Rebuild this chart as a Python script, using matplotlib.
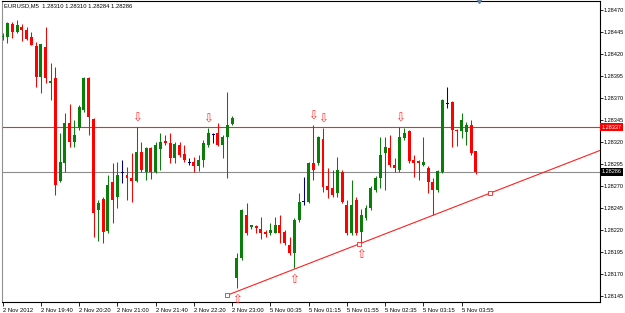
import matplotlib
matplotlib.use('Agg')
import matplotlib.pyplot as plt
import numpy as np

# EURUSD M5 candles, 2 Nov 2012 19:00 -> 5 Nov 2012 04:10
opens = [
    1.28439, 1.28439, 1.28454, 1.28445, 1.28451, 1.28447, 1.28439, 1.28429, 1.28394, 1.28428,
    1.28387, 1.28393, 1.28276, 1.28296, 1.28342, 1.28320, 1.28336, 1.28356, 1.28393, 1.28346,
    1.28243, 1.28255, 1.28219, 1.28275, 1.28257, 1.28285, 1.28282, 1.28279, 1.28276, 1.28309,
    1.28286, 1.28313, 1.28286, 1.28312, 1.28321, 1.28319, 1.28302, 1.28317, 1.28306, 1.28297,
    1.28297, 1.28293, 1.28300, 1.28317, 1.28328, 1.28330, 1.28317, 1.28326, 1.28340, 1.28165,
    1.28188, 1.28237, 1.28223, 1.28225, 1.28221, 1.28218, 1.28217, 1.28217, 1.28226, 1.28218,
    1.28203, 1.28194, 1.28231, 1.28252, 1.28252, 1.28296, 1.28296, 1.28323, 1.28270, 1.28268,
    1.28262, 1.28286, 1.28248, 1.28217, 1.28254, 1.28218, 1.28234, 1.28245, 1.28265, 1.28279,
    1.28307, 1.28313, 1.28294, 1.28288, 1.28325, 1.28332, 1.28300, 1.28298, 1.28294, 1.28290,
    1.28275, 1.28265, 1.28286, 1.28364, 1.28365, 1.28334, 1.28333, 1.28331, 1.28339, 1.28310,
]
highs = [
    1.28444, 1.28456, 1.28456, 1.28459, 1.28454, 1.28451, 1.28445, 1.28434, 1.28431, 1.28451,
    1.28410, 1.28405, 1.28330, 1.28353, 1.28363, 1.28345, 1.28362, 1.28394, 1.28394, 1.28347,
    1.28254, 1.28257, 1.28282, 1.28296, 1.28297, 1.28300, 1.28292, 1.28307, 1.28337, 1.28320,
    1.28314, 1.28314, 1.28320, 1.28330, 1.28328, 1.28330, 1.28320, 1.28320, 1.28317, 1.28302,
    1.28303, 1.28305, 1.28322, 1.28336, 1.28330, 1.28342, 1.28328, 1.28377, 1.28350, 1.28194,
    1.28244, 1.28251, 1.28226, 1.28226, 1.28235, 1.28220, 1.28228, 1.28235, 1.28237, 1.28220,
    1.28212, 1.28234, 1.28262, 1.28280, 1.28297, 1.28339, 1.28327, 1.28336, 1.28290, 1.28288,
    1.28303, 1.28288, 1.28254, 1.28277, 1.28257, 1.28244, 1.28248, 1.28270, 1.28281, 1.28326,
    1.28326, 1.28328, 1.28302, 1.28337, 1.28336, 1.28334, 1.28305, 1.28299, 1.28326, 1.28293,
    1.28279, 1.28288, 1.28369, 1.28382, 1.28367, 1.28335, 1.28353, 1.28343, 1.28345, 1.28310,
]
lows = [
    1.28436, 1.28432, 1.28438, 1.28444, 1.28435, 1.28436, 1.28430, 1.28382, 1.28376, 1.28387,
    1.28368, 1.28260, 1.28275, 1.28286, 1.28314, 1.28314, 1.28334, 1.28354, 1.28328, 1.28212,
    1.28208, 1.28205, 1.28217, 1.28228, 1.28245, 1.28273, 1.28254, 1.28252, 1.28275, 1.28286,
    1.28277, 1.28278, 1.28285, 1.28288, 1.28317, 1.28296, 1.28296, 1.28303, 1.28297, 1.28294,
    1.28286, 1.28287, 1.28292, 1.28314, 1.28319, 1.28315, 1.28302, 1.28279, 1.28339, 1.28154,
    1.28186, 1.28214, 1.28221, 1.28217, 1.28210, 1.28212, 1.28214, 1.28217, 1.28205, 1.28203,
    1.28192, 1.28177, 1.28229, 1.28248, 1.28251, 1.28277, 1.28294, 1.28263, 1.28256, 1.28257,
    1.28257, 1.28251, 1.28214, 1.28214, 1.28214, 1.28205, 1.28231, 1.28243, 1.28263, 1.28268,
    1.28265, 1.28292, 1.28286, 1.28286, 1.28322, 1.28296, 1.28280, 1.28277, 1.28293, 1.28262,
    1.28237, 1.28263, 1.28285, 1.28359, 1.28314, 1.28315, 1.28325, 1.28317, 1.28305, 1.28284,
]
closes = [
    1.28440, 1.28455, 1.28445, 1.28453, 1.28447, 1.28437, 1.28430, 1.28394, 1.28431, 1.28393,
    1.28389, 1.28271, 1.28297, 1.28342, 1.28320, 1.28328, 1.28360, 1.28393, 1.28348, 1.28239,
    1.28251, 1.28218, 1.28271, 1.28254, 1.28282, 1.28285, 1.28279, 1.28276, 1.28309, 1.28288,
    1.28313, 1.28286, 1.28317, 1.28320, 1.28319, 1.28302, 1.28318, 1.28305, 1.28300, 1.28297,
    1.28293, 1.28300, 1.28319, 1.28330, 1.28328, 1.28317, 1.28326, 1.28339, 1.28347, 1.28188,
    1.28243, 1.28217, 1.28226, 1.28222, 1.28217, 1.28215, 1.28220, 1.28226, 1.28217, 1.28205,
    1.28194, 1.28231, 1.28252, 1.28252, 1.28296, 1.28288, 1.28326, 1.28269, 1.28265, 1.28260,
    1.28288, 1.28252, 1.28217, 1.28248, 1.28217, 1.28237, 1.28245, 1.28268, 1.28279, 1.28305,
    1.28314, 1.28294, 1.28290, 1.28326, 1.28330, 1.28298, 1.28296, 1.28296, 1.28297, 1.28275,
    1.28265, 1.28287, 1.28368, 1.28364, 1.28334, 1.28332, 1.28345, 1.28339, 1.28307, 1.28286,
]

time_labels = ['2 Nov 2012', '2 Nov 19:40', '2 Nov 20:20', '2 Nov 21:00', '2 Nov 21:40',
               '2 Nov 22:20', '2 Nov 23:00', '5 Nov 00:35', '5 Nov 01:15', '5 Nov 01:55',
               '5 Nov 02:35', '5 Nov 03:15', '5 Nov 03:55']
price_ticks = [1.28470, 1.28445, 1.28420, 1.28395, 1.28370, 1.28345, 1.28320,
               1.28295, 1.28270, 1.28245, 1.28220, 1.28195, 1.28170, 1.28145]

ask_level = 1.28337
bid_level = 1.28286
up_fractals = [28, 43, 65, 67, 83]
down_fractals = [49, 61, 75]
trend_bars = [47, 102]
trend_prices = [1.28146, 1.28262]

plt.rcParams['font.family'] = ['Liberation Sans', 'DejaVu Sans']

fig = plt.figure(figsize=(6.25, 3.13), dpi=100)
ax = fig.add_axes([2 / 625, 11 / 313, 598 / 625, 301 / 313])

o = np.array(opens)
h = np.array(highs)
l = np.array(lows)
c = np.array(closes)
x = np.arange(len(o))

bull, bear, doji = '#0a7d0a', '#ff0000', '#00008b'
colors = np.where(c > o, bull, np.where(c < o, bear, doji))

# levels
ax.axhline(ask_level, color='#e03030', lw=0.8, zorder=1)
ax.axhline(bid_level, color='#8c8c8c', lw=0.8, zorder=1)

# candles
ax.vlines(x, l, h, colors=colors, lw=0.75, zorder=2)
body = np.maximum(np.abs(c - o), 0.000011)
bottom = np.where(c == o, o - 0.0000055, np.minimum(o, c))
ax.bar(x, body, bottom=bottom, width=0.62, color=colors, linewidth=0, zorder=3)

# fractals
for i in up_fractals:
    ax.text(i, h[i] + 0.0001, '\u21e9', color='#ff3030', ha='center', va='center',
            fontsize=8.5, family='DejaVu Sans', zorder=4)
for i in down_fractals:
    ax.text(i, l[i] - 0.00013, '\u21e7', color='#ff3030', ha='center', va='center',
            fontsize=8.5, family='DejaVu Sans', zorder=4)

# trend line (ray to the right)
slope = (trend_prices[1] - trend_prices[0]) / (trend_bars[1] - trend_bars[0])
x_end = 125
ax.plot([trend_bars[0], x_end],
        [trend_prices[0], trend_prices[0] + slope * (x_end - trend_bars[0])],
        color='#ff2020', lw=0.8, zorder=4)
mid = (trend_bars[0] + trend_bars[1]) / 2
ax.plot([trend_bars[0], mid, trend_bars[1]],
        [trend_prices[0], trend_prices[0] + slope * (mid - trend_bars[0]), trend_prices[1]],
        ls='none', marker='s', ms=2.2, mfc='white', mec='#ff2020', mew=0.6, zorder=5)

ax.set_xlim(-0.15, 124.95)
ax.set_ylim(1.281382, 1.284802)

ax.set_xticks(np.arange(len(time_labels)) * 8)
ax.set_xticklabels(time_labels)
for lbl in ax.get_xticklabels():
    lbl.set_ha('left')
ax.tick_params(axis='x', length=3, width=0.6, pad=1.2, labelsize=4.2)

ax.yaxis.tick_right()
ax.set_yticks(price_ticks)
ax.set_yticklabels(['%.5f' % v for v in price_ticks])
ax.tick_params(axis='y', length=2, width=0.6, pad=0.8, labelsize=4.0)

for s in ax.spines.values():
    s.set_linewidth(0.8)
    s.set_color('black')
ax.spines['left'].set_color('#909090')

# price boxes on the scale
yt = ax.get_yaxis_transform()
ax.text(1.003, ask_level, '%.5f' % ask_level, transform=yt, ha='left', va='center',
        fontsize=4.0, color='white', clip_on=False,
        bbox=dict(boxstyle='square,pad=0.25', fc='#ff0000', ec='none'))
ax.text(1.003, bid_level, '%.5f' % bid_level, transform=yt, ha='left', va='center',
        fontsize=4.0, color='white', clip_on=False,
        bbox=dict(boxstyle='square,pad=0.25', fc='black', ec='none'))

# chart shift marker
ax.plot([99.6], [1.284802], marker='v', ms=3, color='#6080a0', clip_on=False, zorder=6)

fig.text(4 / 625, 1 - 6 / 313,
         'EURUSD,M5  %.5f %.5f %.5f %.5f' % (o[-1], h[-1], l[-1], c[-1]),
         fontsize=4.2, va='center', ha='left')

fig.savefig('out.png', dpi=100)
